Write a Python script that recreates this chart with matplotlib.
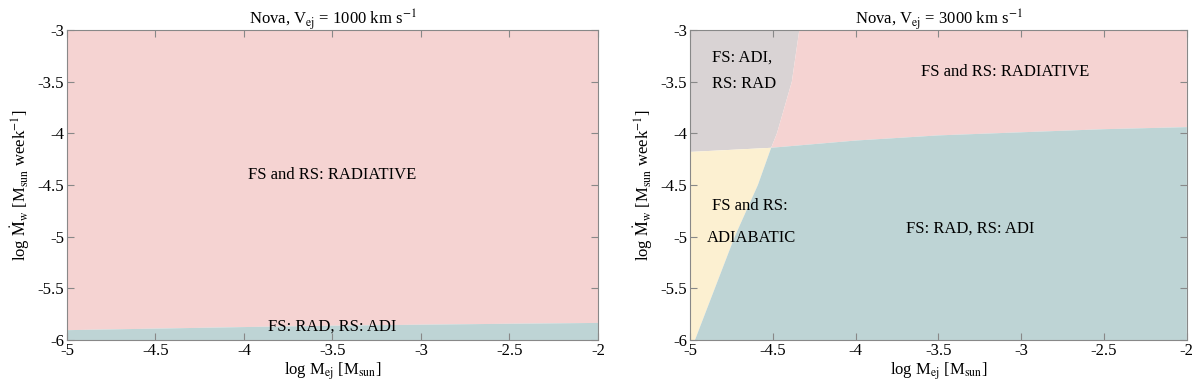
import matplotlib
matplotlib.use("Agg")
import matplotlib.pyplot as plt

plt.rcParams['font.family'] = ['Liberation Serif', 'DejaVu Serif']
plt.rcParams['mathtext.fontset'] = 'stix'
plt.rcParams['axes.unicode_minus'] = False

PINK = '#f5d3d2'
TEAL = '#bed4d5'
GREY = '#d9d3d4'
YELLOW = '#fcf0d1'

# left panel: RS radiative/adiabatic boundary, V_ej = 1000 km/s
left_x = [-5, -4.5, -4, -3.5, -3, -2.5, -2]
left_rs = [-5.90, -5.885, -5.87, -5.857, -5.847, -5.838, -5.83]

# right panel: RS boundary (vs log M_ej) and FS boundary (log M_ej vs log Mdot)
rs_x = [-5, -4.51, -4, -3.5, -3, -2.5, -2]
rs_y = [-4.18, -4.14, -4.07, -4.02, -3.99, -3.96, -3.94]
fs_y = [-6, -5.5, -5, -4.5, -4.14, -4, -3.5, -3]
fs_x = [-4.97, -4.85, -4.73, -4.59, -4.51, -4.475, -4.385, -4.34]

xticks = [-5, -4.5, -4, -3.5, -3, -2.5, -2]
yticks = [-6, -5.5, -5, -4.5, -4, -3.5, -3]
xmin, xmax, ymin, ymax = -5, -2, -6, -3


def style(ax, title):
    ax.set_xlim(xmin, xmax)
    ax.set_ylim(ymin, ymax)
    ax.set_xticks(xticks)
    ax.set_xticklabels([f"{t:g}" for t in xticks])
    ax.set_yticks(yticks)
    ax.set_yticklabels([f"{t:g}" for t in yticks])
    ax.tick_params(direction='in', top=True, right=True, labelsize=12,
                   length=5, color='#888888', pad=2)
    for s in ax.spines.values():
        s.set_color('#888888')
        s.set_linewidth(0.8)
    ax.set_title(title, fontsize=12, pad=4)
    ax.set_xlabel(r'log M$_{\rm ej}$ [M$_{\rm sun}$]', fontsize=12, labelpad=1)
    ax.set_ylabel(r'log $\dot{\rm M}_{\rm w}$ [M$_{\rm sun}$ week$^{-1}$]',
                  fontsize=12, labelpad=4)


fig = plt.figure(figsize=(12, 3.83), dpi=100)
ax1 = fig.add_axes([0.0558, 0.1123, 0.4425, 0.8094])
ax2 = fig.add_axes([0.575, 0.1123, 0.414, 0.8094])

# left panel
ax1.fill_between(left_x, left_rs, ymax, color=PINK, lw=0)
ax1.fill_between(left_x, ymin, left_rs, color=TEAL, lw=0)
ax1.text(-3.5, -4.4, 'FS and RS: RADIATIVE', ha='center', va='center', fontsize=12)
ax1.text(-3.5, -5.875, 'FS: RAD, RS: ADI', ha='center', va='center', fontsize=12)
style(ax1, r'Nova, V$_{\rm ej}$ = 1000 km s$^{-1}$')

# right panel, regions bounded by the two curves (crossing at rs[1] / fs[4])
i_rs, i_fs = 1, 4
grey_x = [xmin, xmin] + fs_x[i_fs:] + [xmin]
grey_y = [ymax, rs_y[0]] + fs_y[i_fs:] + [ymax]
yel_x = [xmin] + fs_x[:i_fs + 1] + [rs_x[0]]
yel_y = [ymin] + fs_y[:i_fs + 1] + [rs_y[0]]
pink_x = rs_x[i_rs:] + [xmax] + fs_x[i_fs:][::-1]
pink_y = rs_y[i_rs:] + [ymax] + fs_y[i_fs:][::-1]
teal_x = [fs_x[0], xmax] + rs_x[i_rs:][::-1] + fs_x[:i_fs][::-1]
teal_y = [ymin, ymin] + rs_y[i_rs:][::-1] + fs_y[:i_fs][::-1]

ax2.fill(grey_x, grey_y, color=GREY, lw=0)
ax2.fill(yel_x, yel_y, color=YELLOW, lw=0)
ax2.fill(pink_x, pink_y, color=PINK, lw=0)
ax2.fill(teal_x, teal_y, color=TEAL, lw=0)

ax2.text(-4.87, -3.27, 'FS: ADI,', ha='left', va='center', fontsize=12)
ax2.text(-4.87, -3.52, 'RS: RAD', ha='left', va='center', fontsize=12)
ax2.text(-3.1, -3.41, 'FS and RS: RADIATIVE', ha='center', va='center', fontsize=12)
ax2.text(-4.87, -4.70, 'FS and RS:', ha='left', va='center', fontsize=12)
ax2.text(-4.9, -5.01, 'ADIABATIC', ha='left', va='center', fontsize=12)
ax2.text(-3.31, -4.92, 'FS: RAD, RS: ADI', ha='center', va='center', fontsize=12)
style(ax2, r'Nova, V$_{\rm ej}$ = 3000 km s$^{-1}$')

fig.savefig('out.png', dpi=100)
